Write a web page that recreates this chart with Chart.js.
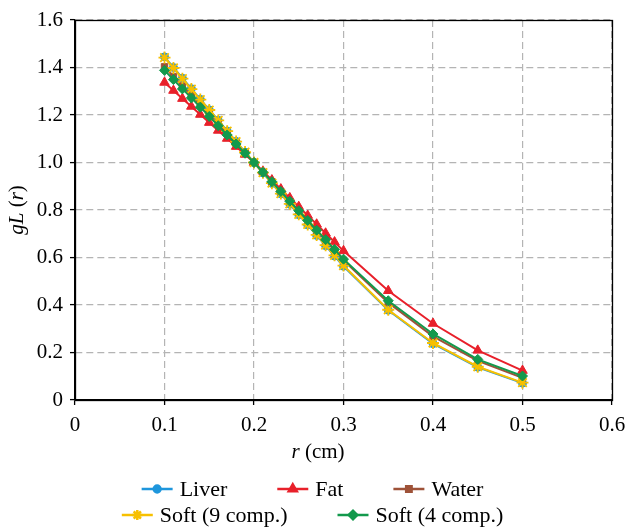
<!DOCTYPE html>
<html><head><meta charset="utf-8">
<script src="https://cdn.jsdelivr.net/npm/chart.js@4"></script>
<style>html,body{margin:0;padding:0;background:#fff}#wrap{width:625px;height:527px;position:relative}</style>
</head><body><div id="wrap"><canvas id="c" width="625" height="527"></canvas></div>
<script>
const rValues = [0.10,0.11,0.12,0.13,0.14,0.15,0.16,0.17,0.18,0.19,0.20,0.21,0.22,0.23,0.24,0.25,0.26,0.27,0.28,0.29,0.30,0.35,0.40,0.45,0.50];
const liver = [1.445,1.400,1.355,1.311,1.266,1.222,1.178,1.133,1.089,1.044,1.000,0.956,0.912,0.868,0.824,0.780,0.737,0.693,0.650,0.606,0.563,0.378,0.237,0.138,0.071];
const fat   = [1.337,1.303,1.269,1.236,1.202,1.168,1.135,1.101,1.067,1.034,1.000,0.963,0.926,0.888,0.851,0.814,0.777,0.740,0.702,0.665,0.628,0.460,0.322,0.209,0.124];
const water = [1.403,1.362,1.322,1.281,1.241,1.201,1.161,1.121,1.080,1.040,1.000,0.959,0.918,0.877,0.835,0.794,0.753,0.712,0.671,0.629,0.588,0.410,0.268,0.165,0.093];
const soft9 = [1.442,1.398,1.353,1.309,1.265,1.221,1.177,1.132,1.088,1.044,1.000,0.957,0.913,0.869,0.826,0.782,0.739,0.695,0.652,0.609,0.566,0.380,0.240,0.140,0.073];
const soft4 = [1.388,1.349,1.310,1.272,1.233,1.194,1.155,1.116,1.078,1.039,1.000,0.959,0.919,0.878,0.837,0.797,0.756,0.715,0.675,0.634,0.593,0.418,0.278,0.171,0.101];
const seriesNames = ['Liver','Fat','Water','Soft (9 comp.)','Soft (4 comp.)'];
const xTickValues = [0,0.1,0.2,0.3,0.4,0.5,0.6];
const yTickValues = [0,0.2,0.4,0.6,0.8,1.0,1.2,1.4,1.6];

const SERIF = '"Liberation Serif", "DejaVu Serif", serif';
const styles = [
  {color:'#1e96dc', pointStyle:'circle', radius:4, order:5},
  {color:'#e8202a', pointStyle:'triangle', radius:5.5, order:4},
  {color:'#9e5238', pointStyle:'rect', radius:4.5, order:3},
  {color:'#f7c000', pointStyle:'star', radius:6, order:2, bw:1.8},
  {color:'#13994c', pointStyle:'rectRot', radius:5, order:1}
];
const values = [liver, fat, water, soft9, soft4];

const datasets = values.map((vals, i) => ({
  label: seriesNames[i],
  data: rValues.map((r, k) => ({x: r, y: vals[k]})),
  borderColor: styles[i].color,
  backgroundColor: styles[i].color,
  borderWidth: 2,
  pointStyle: styles[i].pointStyle,
  pointRadius: styles[i].radius,
  pointBorderWidth: styles[i].bw || 1,
  pointBackgroundColor: styles[i].color,
  pointBorderColor: styles[i].color,
  tension: 0,
  order: styles[i].order
}));

function fmt(v){ return Math.abs(v) < 1e-9 ? '0' : v.toFixed(1); }

function drawMixed(ctx, parts, cx, cy, size){
  let total = 0;
  parts.forEach(p => { ctx.font = (p.it ? 'italic ' : '') + size + 'px ' + SERIF; p.w = ctx.measureText(p.t).width; total += p.w; });
  let x = cx - total/2;
  ctx.textBaseline = 'middle';
  ctx.textAlign = 'left';
  parts.forEach(p => { ctx.font = (p.it ? 'italic ' : '') + size + 'px ' + SERIF; ctx.fillText(p.t, x, cy); x += p.w; });
}

const decor = {
  id: 'decor',
  afterDraw(chart){
    const ctx = chart.ctx, a = chart.chartArea;
    ctx.save();
    ctx.strokeStyle = '#000';
    ctx.lineWidth = 1.3;
    ctx.strokeRect(Math.round(a.left)+0.5, Math.round(a.top)+0.5, Math.round(a.right-a.left), Math.round(a.bottom-a.top));
    ctx.fillStyle = '#000';
    drawMixed(ctx, [{t:'r',it:true},{t:' (cm)'}], 318, 452, 21);
    ctx.save();
    ctx.translate(17, (a.top + a.bottom)/2);
    ctx.rotate(-Math.PI/2);
    drawMixed(ctx, [{t:'gL',it:true},{t:' ('},{t:'r',it:true},{t:')'}], 0, 0, 21);
    ctx.restore();
    const rows = [[0,1,2],[3,4]];
    const rowY = [489, 515];
    const lineLen = 31, gapText = 7, gapItem = 50;
    ctx.font = '22px ' + SERIF;
    rows.forEach((row, ri) => {
      const widths = row.map(i => lineLen + gapText + ctx.measureText(seriesNames[i]).width);
      const total = widths.reduce((s,w)=>s+w,0) + gapItem*(row.length-1);
      let x = (chart.width - total)/2;
      const y = rowY[ri];
      row.forEach((i, k) => {
        const st = styles[i];
        ctx.save();
        ctx.strokeStyle = st.color; ctx.lineWidth = 2.5;
        ctx.beginPath(); ctx.moveTo(x, y); ctx.lineTo(x+lineLen, y); ctx.stroke();
        ctx.fillStyle = st.color;
        Chart.helpers.drawPoint(ctx, {pointStyle: st.pointStyle, radius: st.radius*0.85, borderWidth: st.bw || 1, rotation: 0}, x+lineLen/2, y);
        ctx.restore();
        ctx.fillStyle = '#000';
        ctx.font = '22px ' + SERIF;
        ctx.textAlign = 'left'; ctx.textBaseline = 'middle';
        ctx.fillText(seriesNames[i], x + lineLen + gapText, y + 1);
        x += widths[k] + gapItem;
      });
    });
    ctx.restore();
  }
};

new Chart(document.getElementById('c'), {
  type: 'line',
  data: {datasets},
  options: {
    responsive: false,
    animation: false,
    layout: {padding: {top: 20, right: 13, left: 0, bottom: 0}},
    plugins: {legend: {display: false}, tooltip: {enabled: false}},
    scales: {
      x: {
        type: 'linear', min: 0, max: 0.6,
        afterBuildTicks: s => { s.ticks = xTickValues.map(v => ({value: v})); },
        afterFit: s => { s.height = 127; s.paddingRight = 0; s.paddingLeft = 0; },
        ticks: {callback: v => fmt(v), color: '#000', font: {family: SERIF, size: 21}, padding: 8, maxRotation: 0},
        grid: {color: '#b4b4b4', lineWidth: 1.2, tickColor: '#000', tickLength: 5, tickWidth: 1.3},
        border: {color: '#000', width: 1.3, dash: [7,4]}
      },
      y: {
        type: 'linear', min: 0, max: 1.6,
        afterBuildTicks: s => { s.ticks = yTickValues.map(v => ({value: v})); },
        afterFit: s => { s.width = 75; s.paddingTop = 0; s.paddingBottom = 0; },
        ticks: {callback: v => fmt(v), color: '#000', font: {family: SERIF, size: 21}, padding: 7},
        grid: {color: '#b4b4b4', lineWidth: 1.2, tickColor: '#000', tickLength: 5, tickWidth: 1.3},
        border: {color: '#000', width: 1.3, dash: [7,4]}
      }
    }
  },
  plugins: [decor]
});
</script></body></html>
